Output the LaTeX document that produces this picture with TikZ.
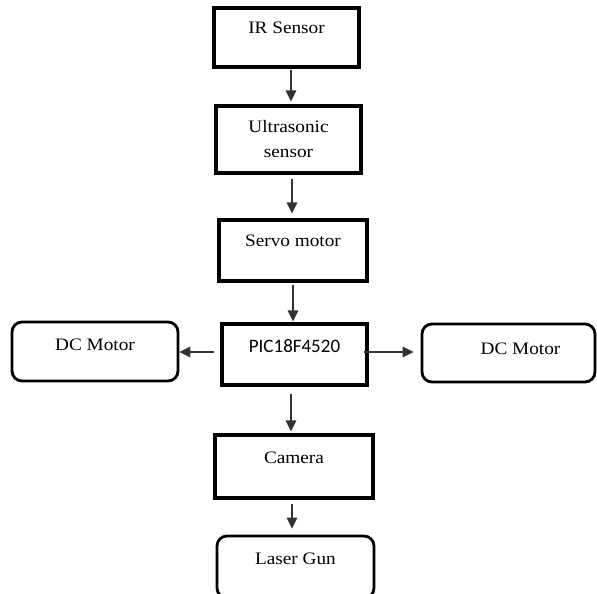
\documentclass[tikz,border=0pt]{standalone}
\usepackage{fontspec}
\setmainfont{Liberation Serif}[FakeStretch=1.1]
\newfontfamily\picfont{Carlito}
\usepackage{tikz}
\usetikzlibrary{arrows.meta, positioning}

\begin{document}
\begin{tikzpicture}[
  x=1pt, y=-1pt,
  blk/.style={rectangle, draw, line width=3.2pt, inner sep=0pt, align=center, font=\fontsize{17.5}{25}\selectfont},
  rblk/.style={blk, rounded corners=10pt, line width=2.8pt},
  arr/.style={-{Triangle[length=11pt,width=10.5pt]}, line width=1.6pt, black!80}
]
  \useasboundingbox (0,0) rectangle (597,594);

  \node[blk, minimum width=145pt, text height=26pt, text depth=33pt] (ir) at (286.5,37.5) {IR Sensor};
  \node[blk, minimum width=145pt, minimum height=67pt] (us) at (288.5,139.5) {Ultrasonic\\sensor};
  \node[blk, minimum width=148pt, text height=26pt, text depth=35pt] (servo) at (293,250.5) {Servo motor};
  \node[blk, minimum width=145pt, text height=28pt, text depth=33pt, font=\picfont\fontsize{19}{23}\selectfont] (pic) at (294.5,354.5) {PIC18F4520};
  \node[rblk, minimum width=166pt, text height=28pt, text depth=31pt] (ldc) at (95,351.5) {DC Motor};
  \node[rblk, minimum width=173pt, text height=30pt, text depth=28pt] (rdc) at (508.5,353) {\hspace*{24pt}DC Motor};
  \node[blk, minimum width=158pt, text height=28pt, text depth=35pt] (cam) at (294,466.5) {Camera};
  \node[rblk, minimum width=157pt, text height=28pt, text depth=34pt] (laser) at (295.5,567) {Laser Gun};

  \draw[arr] ([xshift=4.5pt,yshift=-1pt]ir.south) -- ([xshift=2.5pt,yshift=3pt]us.north);
  \draw[arr] ([xshift=3.5pt,yshift=-4pt]us.south) -- ([xshift=-1pt,yshift=5pt]servo.north);
  \draw[arr] ([yshift=-2pt]servo.south) -- ([xshift=-1.5pt,yshift=1pt]pic.north);
  \draw[arr] ([xshift=-3.5pt,yshift=-7pt]pic.south) -- ([xshift=-3pt,yshift=2pt]cam.north);
  \draw[arr] ([xshift=-2pt,yshift=-4pt]cam.south) -- ([xshift=-3.5pt,yshift=6pt]laser.north);
  \draw[arr] ([xshift=-6pt,yshift=2.5pt]pic.west) -- ([yshift=-0.5pt]ldc.east);
  \draw[arr] ([xshift=-5pt,yshift=2.5pt]pic.east) -- ([xshift=-7pt,yshift=1pt]rdc.west);
\end{tikzpicture}
\end{document}
